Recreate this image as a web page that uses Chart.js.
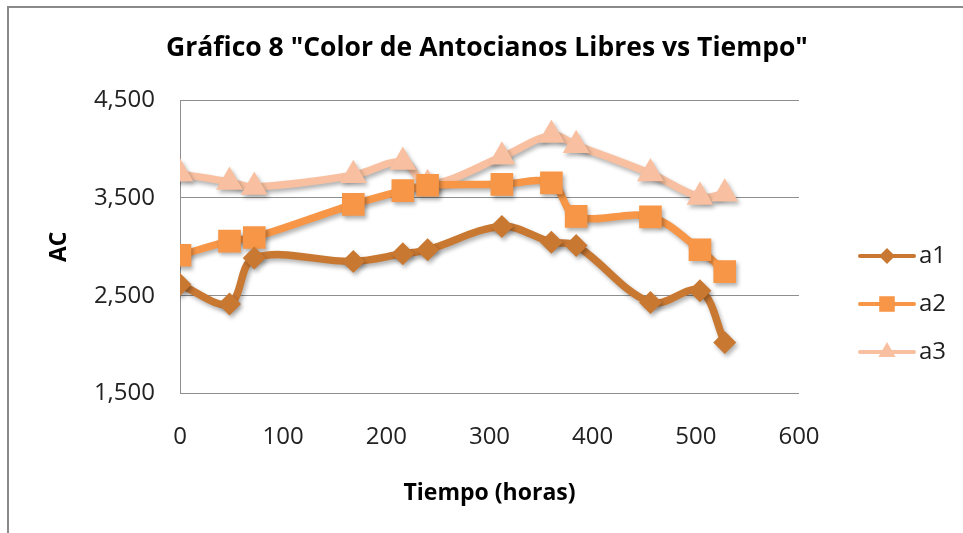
<!DOCTYPE html>
<html>
<head>
<meta charset="utf-8">
<script src="https://cdn.jsdelivr.net/npm/chart.js"></script>
<style>
  html, body { margin: 0; padding: 0; background: #fff; }
  #wrap { position: relative; width: 963px; height: 533px; }
</style>
</head>
<body>
<div id="wrap"><canvas id="c" width="963" height="533"></canvas></div>
<script>
// Sampling times (hours)
const hours = [0, 48, 72, 168, 216, 240, 312, 360, 384, 456, 504, 528];

// Free anthocyanin colour (AC) per replicate
const a1 = [2613, 2415, 2885, 2850, 2928, 2969, 3208, 3047, 3013, 2431, 2551, 2021];
const a2 = [2913, 3057, 3095, 3433, 3574, 3628, 3638, 3653, 3310, 3305, 2969, 2746];
const a3 = [3745, 3662, 3611, 3731, 3867, 3638, 3919, 4141, 4038, 3748, 3508, 3543];

const seriesNames = ['a1', 'a2', 'a3'];
const xTicks = [0, 100, 200, 300, 400, 500, 600];
const yTicks = [1500, 2500, 3500, 4500];

const titleText = 'Gráfico 8 "Color de Antocianos Libres vs Tiempo"';
const xTitle = 'Tiempo (horas)';
const yTitle = 'AC';

const FONT = '"Open Sans", "Noto Sans", sans-serif';
const GRID = '#8e8e8e';

const styles = [
  { color: '#C97832', point: 'rectRot', radius: 11.5, legendRadius: 8 },
  { color: '#F79646', point: 'rect', radius: 16, legendRadius: 11 },
  { color: '#F8C0A0', point: 'triangle', radius: 15.5, legendRadius: 10 }
];

const seriesValues = [a1, a2, a3];
const datasets = seriesValues.map((vals, i) => ({
  label: seriesNames[i],
  data: hours.map((h, j) => ({ x: h, y: vals[j] })),
  borderColor: styles[i].color,
  backgroundColor: styles[i].color,
  borderWidth: 7.5,
  tension: 0.35,
  pointStyle: styles[i].point,
  pointRadius: styles[i].radius,
  pointHoverRadius: styles[i].radius,
  pointBackgroundColor: styles[i].color,
  pointBorderColor: styles[i].color,
  pointBorderWidth: 0,
  fill: false
}));

// Frame, title and legend drawn around the plot
const decorations = {
  id: 'decorations',
  beforeDraw(chart) {
    const ctx = chart.ctx;
    ctx.save();
    ctx.fillStyle = '#fff';
    ctx.fillRect(0, 0, chart.width, chart.height);
    ctx.strokeStyle = '#8a8a8a';
    ctx.lineWidth = 2;
    ctx.beginPath();
    ctx.moveTo(8, chart.height);
    ctx.lineTo(8, 7);
    ctx.lineTo(chart.width, 7);
    ctx.stroke();
    ctx.restore();
  },
  beforeDatasetsDraw(chart) {
    const ctx = chart.ctx;
    ctx.save();
    ctx.shadowColor = 'rgba(0,0,0,0.30)';
    ctx.shadowBlur = 4;
    ctx.shadowOffsetX = 2;
    ctx.shadowOffsetY = 3;
  },
  afterDatasetsDraw(chart) {
    chart.ctx.restore();
  },
  afterDraw(chart) {
    const ctx = chart.ctx;
    ctx.save();
    // title
    ctx.fillStyle = '#000';
    ctx.font = 'bold 26.5px ' + FONT;
    ctx.textAlign = 'center';
    ctx.textBaseline = 'middle';
    ctx.fillText(titleText, 487, 48);

    // legend
    const rowY = [256, 304, 352];
    chart.data.datasets.forEach((ds, i) => {
      const y = rowY[i];
      ctx.strokeStyle = ds.borderColor;
      ctx.lineWidth = 4;
      ctx.lineCap = 'round';
      ctx.beginPath();
      ctx.moveTo(860, y);
      ctx.lineTo(914, y);
      ctx.stroke();
      ctx.fillStyle = ds.borderColor;
      Chart.helpers.drawPoint(ctx, {
        pointStyle: ds.pointStyle,
        radius: styles[i].legendRadius,
        rotation: 0,
        borderWidth: 0
      }, 887, y);
      ctx.fillStyle = '#1e1e1e';
      ctx.font = '24px ' + FONT;
      ctx.textAlign = 'left';
      ctx.textBaseline = 'middle';
      ctx.fillText(ds.label, 919, y);
    });
    ctx.restore();
  }
};

new Chart(document.getElementById('c'), {
  type: 'line',
  data: { datasets },
  plugins: [decorations],
  options: {
    responsive: false,
    devicePixelRatio: 1,
    animation: false,
    layout: { padding: { top: 100, left: 10, right: 164, bottom: 0 } },
    plugins: {
      legend: { display: false },
      title: { display: false },
      tooltip: { enabled: false }
    },
    scales: {
      x: {
        type: 'linear',
        min: 0,
        max: 600,
        afterBuildTicks: (scale) => { scale.ticks = xTicks.map(v => ({ value: v })); },
        afterFit: (scale) => { scale.height = 533 - 393.5; },
        grid: { display: false, drawTicks: false },
        border: { display: false },
        ticks: {
          padding: 29,
          color: '#222',
          font: { family: FONT, size: 24 },
          maxRotation: 0
        },
        title: {
          display: true,
          text: xTitle,
          color: '#000',
          font: { family: FONT, size: 23, weight: 'bold' },
          padding: { top: 0, bottom: 26 }
        }
      },
      y: {
        type: 'linear',
        min: 1500,
        max: 4500,
        afterBuildTicks: (scale) => { scale.ticks = yTicks.map(v => ({ value: v })); },
        afterFit: (scale) => { scale.width = 170; },
        grid: { color: GRID, lineWidth: 1, drawTicks: false },
        border: { display: true, color: GRID, width: 1 },
        ticks: {
          padding: 25,
          color: '#222',
          font: { family: FONT, size: 24 },
          callback: (v) => v.toLocaleString('en-US')
        },
        title: {
          display: true,
          text: yTitle,
          color: '#000',
          font: { family: FONT, size: 23, weight: 'bold' },
          padding: { top: 36, bottom: 0 }
        }
      }
    }
  }
});
</script>
</body>
</html>
